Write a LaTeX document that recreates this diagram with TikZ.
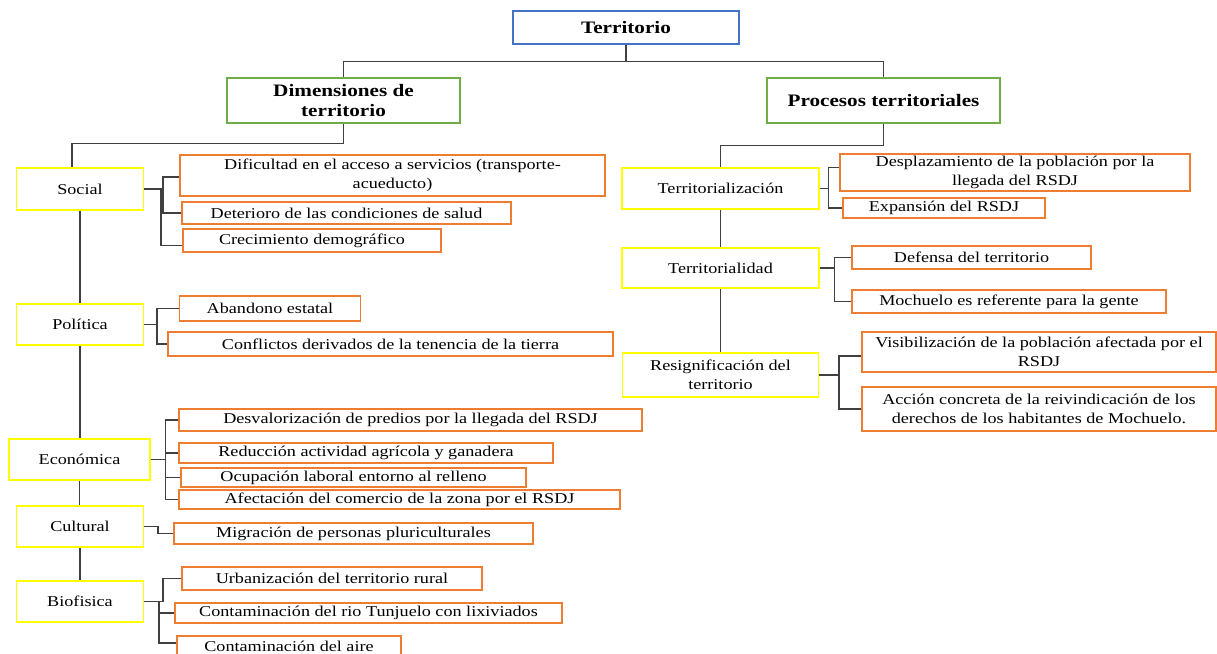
\documentclass[tikz,border=0pt]{standalone}
\usepackage{fontspec}
\setmainfont{Liberation Serif}[FakeStretch=1.21]
\definecolor{cblue}{HTML}{4472C4}
\definecolor{cgreen}{HTML}{70AD47}
\definecolor{cyellow}{HTML}{FFFF00}
\definecolor{corange}{HTML}{ED7D31}
\definecolor{cline}{HTML}{404040}
\begin{document}
\begin{tikzpicture}[x=1pt,y=-1pt,
  box/.style={draw, fill=white, rectangle, inner sep=0pt, align=center,
    font=\fontsize{15}{18.5}\selectfont, line width=1.1pt},
  hbox/.style={box, font=\fontsize{17.5}{20.5}\selectfont\bfseries},
  tbox/.style={hbox, draw=cblue},
  gbox/.style={hbox, draw=cgreen},
  ybox/.style={box, draw=cyellow},
  obox/.style={box, draw=corange},
  link/.style={draw=cline, line width=1.3pt}]
\fill[white] (0,0) rectangle (1217,653);
\useasboundingbox (0,0) rectangle (1217,653);
\clip (0,0) rectangle (1217,653);
% headers
\node[tbox, minimum width=226pt, minimum height=33pt] (tit) at (626,27.5) {Territorio};
\node[gbox, minimum width=233pt, minimum height=45pt] (dim) at (343.5,100.5) {Dimensiones de\\territorio};
\node[gbox, minimum width=233pt, minimum height=45pt] (pro) at (883.5,100.5) {Procesos territoriales};
% left categories
\node[ybox, minimum width=127pt, minimum height=42pt] (soc) at (80,189) {Social};
\node[ybox, minimum width=127pt, minimum height=41pt] (pol) at (80,324.5) {Política};
\node[ybox, minimum width=141pt, minimum height=41pt] (eco) at (79.5,459.5) {Económica};
\node[ybox, minimum width=127pt, minimum height=41pt] (cul) at (80,526.5) {Cultural};
\node[ybox, minimum width=127pt, minimum height=41pt] (bio) at (80,601.5) {Biofisica};
% left children
\node[obox, minimum width=425pt, minimum height=41pt] (dif) at (392.5,175.5) {Dificultad en el acceso a servicios (transporte-\\acueducto)};
\node[obox, minimum width=329pt, minimum height=22pt] (det) at (346.5,213) {Deterioro de las condiciones de salud};
\node[obox, minimum width=258pt, minimum height=23pt] (cre) at (312,240.5) {Crecimiento demográfico};
\node[obox, minimum width=181pt, minimum height=25pt] (aba) at (270,308.5) {Abandono estatal};
\node[obox, minimum width=445pt, minimum height=24pt] (con) at (390.5,344) {Conflictos derivados de la tenencia de la tierra};
\node[obox, minimum width=463pt, minimum height=22pt] (des) at (410.5,420) {Desvalorización de predios por la llegada del RSDJ};
\node[obox, minimum width=374pt, minimum height=20pt] (red) at (366,453) {Reducción actividad agrícola y ganadera};
\node[obox, minimum width=345pt, minimum height=19pt] (ocu) at (353.5,477.5) {Ocupación laboral entorno al relleno};
\node[obox, minimum width=441pt, minimum height=19pt] (afe) at (399.5,499.5) {Afectación del comercio de la zona por el RSDJ};
\node[obox, minimum width=359pt, minimum height=21pt] (mig) at (353.5,533.5) {Migración de personas pluriculturales};
\node[obox, minimum width=300pt, minimum height=23pt] (urb) at (332,578.5) {Urbanización del territorio rural};
\node[obox, minimum width=387pt, minimum height=20pt] (rio) at (368.5,613) {Contaminación del rio Tunjuelo con lixiviados};
\node[obox, minimum width=224pt, minimum height=20pt] (air) at (289,646) {Contaminación del aire};
% right categories
\node[ybox, minimum width=197pt, minimum height=41pt] (tzn) at (720.5,188.5) {Territorialización};
\node[ybox, minimum width=197pt, minimum height=40pt] (tdd) at (720.5,268) {Territorialidad};
\node[ybox, minimum width=196pt, minimum height=44pt] (res) at (720.5,375) {Resignificación del\\territorio};
% right children
\node[obox, minimum width=350pt, minimum height=37pt] (dsp) at (1015,172.5) {Desplazamiento de la población por la\\llegada del RSDJ};
\node[obox, minimum width=202pt, minimum height=20pt] (exp) at (944,208) {Expansión del RSDJ};
\node[obox, minimum width=239pt, minimum height=23pt] (def) at (971.5,257.5) {Defensa del territorio};
\node[obox, minimum width=314pt, minimum height=23pt] (moc) at (1009,301.5) {Mochuelo es referente para la gente};
\node[obox, minimum width=354pt, minimum height=40pt] (vis) at (1039,352) {Visibilización de la población afectada por el\\RSDJ};
\node[obox, minimum width=354pt, minimum height=44pt] (acc) at (1039,409) {Acción concreta de la reivindicación de los\\derechos de los habitantes de Mochuelo.};
% connectors: top
\draw[link] (tit.south) -- ++(0,17) -| (dim.north);
\draw[link] (tit.south) -- ++(0,17) -| (pro.north);
\draw[link] (dim.south) -- ++(0,20) -| ([xshift=-8pt]soc.north);
\draw[link] (pro.south) -- ++(0,22) -| (tzn.north);
% left spine
\draw[link] (soc.south) -- (soc.south |- pol.north);
\draw[link] (pol.south) -- (pol.south |- eco.north);
\draw[link] (eco.south) -- (eco.south |- cul.north);
\draw[link] (cul.south) -- (cul.south |- bio.north);
% right spine
\draw[link] (tzn.south) -- (tzn.south |- tdd.north);
\draw[link] (tdd.south) -- (tdd.south |- res.north);
% social
\draw[link] (soc.east) -- ++(19,0) |- ([yshift=-1.5pt]dif.west);
\draw[link] (soc.east) -- ++(19,0) |- (det.west);
\draw[link] (soc.east) -- ++(17,0) |- ([yshift=-5pt]cre.west);
% politica
\draw[link] (pol.east) -- ++(13,0) |- (aba.west);
\draw[link] (pol.east) -- ++(13,0) |- (con.west);
% economica
\draw[link] (eco.east) -- ++(15,0) |- (des.west);
\draw[link] (eco.east) -- ++(15,0) |- (red.west);
\draw[link] (eco.east) -- ++(15,0) |- (ocu.west);
\draw[link] (eco.east) -- ++(15,0) |- (afe.west);
% cultural
\draw[link] (cul.east) -- ++(14,0) |- (mig.west);
% biofisica
\draw[link] (bio.east) -- ++(19,0) |- (urb.west);
\draw[link] (bio.east) -- ++(15,0) |- (rio.west);
\draw[link] (bio.east) -- ++(15,0) |- ([yshift=3pt]air.west);
% territorializacion
\draw[link] (tzn.east) -- ++(9,0) |- ([yshift=5pt]dsp.west);
\draw[link] (tzn.east) -- ++(9,0) |- (exp.west);
% territorialidad
\draw[link] (tdd.east) -- ++(15,0) |- (def.west);
\draw[link] (tdd.east) -- ++(15,0) |- (moc.west);
% resignificacion
\draw[link] (res.east) -- ++(20,0) |- ([yshift=-4pt]vis.west);
\draw[link] (res.east) -- ++(20,0) |- (acc.west);
\end{tikzpicture}
\end{document}
